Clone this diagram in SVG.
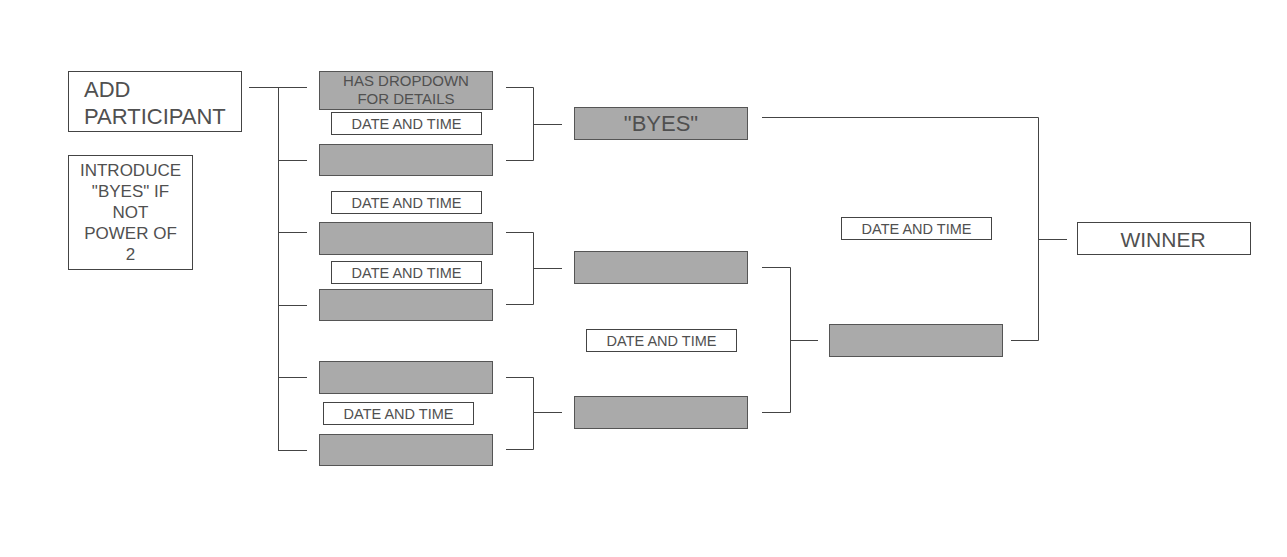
<svg xmlns="http://www.w3.org/2000/svg" width="1287" height="557" viewBox="0 0 1287 557">
<style>
.w{fill:#fff;stroke:#444;stroke-width:1}
.g{fill:#aaaaaa;stroke:#555;stroke-width:1}
.d{fill:#fff;stroke:#444;stroke-width:1}
text{font-family:"Liberation Sans",Arial,sans-serif;fill:#505050}
.c{text-anchor:middle}
.t14{font-size:14.5px}
.t17{font-size:17px}
.t22{font-size:22px}
.con path{fill:none;stroke:#444;stroke-width:1}
</style>
<rect width="1287" height="557" fill="#fff"/>
<g class="con">
<path d="M249 87.5H307M278.5 87.5V450.5M278 160.5H307M278 232.5H307M278 305.5H307M278 377.5H307M278 450.5H307"/>
<path d="M506 87.5H533.5V160.5H506M533.5 124.5H562"/>
<path d="M506 232.5H533.5V304.5H506M533.5 268.5H562"/>
<path d="M506 377.5H533.5V449.5H506M533.5 412.5H562"/>
<path d="M762 267.5H790.5V412.5H762M790.5 340.5H818"/>
<path d="M762 117.5H1038.5V340.5H1011M1038.5 239.5H1067"/>
</g>
<g id="add-participant"><rect class="w" x="68.5" y="71.5" width="173" height="60"/><text class="t22" x="84" y="97">ADD</text><text class="t22" x="84" y="124">PARTICIPANT</text></g>
<g id="introduce-byes"><rect class="w" x="68.5" y="155.5" width="124" height="114"/>
<text class="t17 c" x="130.5" y="176">INTRODUCE</text><text class="t17 c" x="130.5" y="197">"BYES" IF</text><text class="t17 c" x="130.5" y="218">NOT</text><text class="t17 c" x="130.5" y="239">POWER OF</text><text class="t17 c" x="130.5" y="260">2</text></g>
<g id="p1"><rect class="g" x="319.5" y="71.5" width="173" height="38"/><text class="c" style="font-size:15px" x="406" y="86">HAS DROPDOWN</text><text class="c" style="font-size:15px" x="406" y="104">FOR DETAILS</text></g>
<g id="dt1"><rect class="d" x="331.5" y="112.5" width="150" height="22"/><text class="t14 c" x="406.5" y="128.5">DATE AND TIME</text></g>
<g id="p2"><rect class="g" x="319.5" y="144.5" width="173" height="31"/></g>
<g id="dt2"><rect class="d" x="331.5" y="191.5" width="150" height="22"/><text class="t14 c" x="406.5" y="207.5">DATE AND TIME</text></g>
<g id="p3"><rect class="g" x="319.5" y="222.5" width="173" height="32"/></g>
<g id="dt3"><rect class="d" x="331.5" y="261.5" width="150" height="22"/><text class="t14 c" x="406.5" y="277.5">DATE AND TIME</text></g>
<g id="p4"><rect class="g" x="319.5" y="289.5" width="173" height="31"/></g>
<g id="p5"><rect class="g" x="319.5" y="361.5" width="173" height="32"/></g>
<g id="dt4"><rect class="d" x="323.5" y="402.5" width="150" height="22"/><text class="t14 c" x="398.5" y="418.5">DATE AND TIME</text></g>
<g id="p6"><rect class="g" x="319.5" y="434.5" width="173" height="31"/></g>
<g id="byes"><rect class="g" x="574.5" y="107.5" width="173" height="32"/><text class="t22 c" x="661" y="131">"BYES"</text></g>
<g id="r2a"><rect class="g" x="574.5" y="251.5" width="173" height="32"/></g>
<g id="dt5"><rect class="d" x="586.5" y="329.5" width="150" height="22"/><text class="t14 c" x="661.5" y="345.5">DATE AND TIME</text></g>
<g id="r2b"><rect class="g" x="574.5" y="396.5" width="173" height="32"/></g>
<g id="dt6"><rect class="d" x="841.5" y="217.5" width="150" height="22"/><text class="t14 c" x="916.5" y="233.5">DATE AND TIME</text></g>
<g id="r3"><rect class="g" x="829.5" y="324.5" width="173" height="32"/></g>
<g id="winner"><rect class="w" x="1077.5" y="222.5" width="173" height="32"/><text class="c" style="font-size:21px" x="1163" y="246.5">WINNER</text></g>
</svg>
